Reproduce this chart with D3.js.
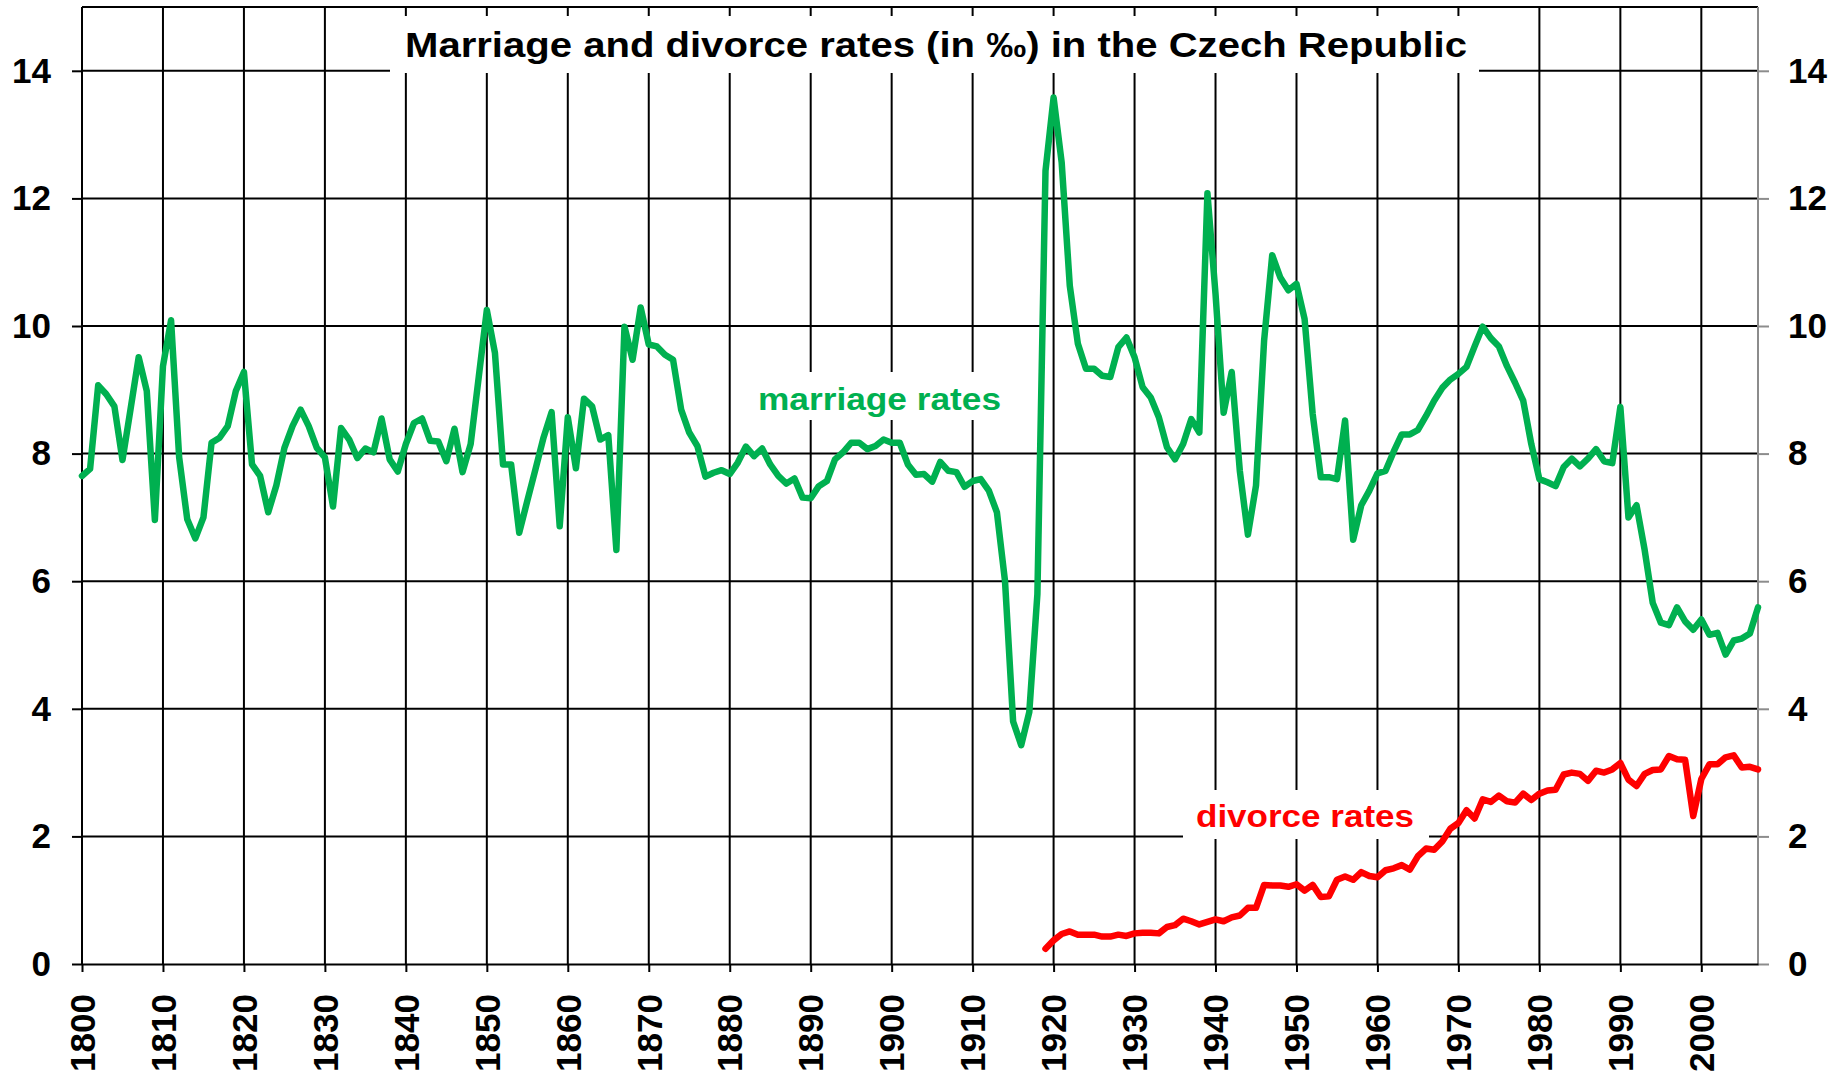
<!DOCTYPE html>
<html>
<head>
<meta charset="utf-8">
<script src="https://cdn.jsdelivr.net/npm/d3@7"></script>
<style>
	body { margin: 0; background: #fff; }
	svg { display: block; font-family: "Liberation Sans", Arial, sans-serif; font-weight: bold; }
</style>
</head>
<body>
<svg id="chart" width="1839" height="1074"></svg>
<script>
// marriages per 1000 inhabitants, one value a year from 1800
const marriageStart = 1800;
const marriageRates = [
	7.65, 7.76, 9.07, 8.93, 8.74, 7.9, 8.7, 9.51, 8.98, 6.96,
	9.37, 10.09, 7.94, 6.97, 6.67, 7.0, 8.17, 8.25, 8.43, 8.98,
	9.28, 7.83, 7.65, 7.08, 7.5, 8.09, 8.43, 8.69, 8.43, 8.09,
	7.94, 7.17, 8.4, 8.22, 7.93, 8.08, 8.02, 8.55, 7.91, 7.72,
	8.15, 8.48, 8.55, 8.2, 8.19, 7.88, 8.39, 7.71, 8.15, 9.2,
	10.25, 9.58, 7.83, 7.83, 6.76, 7.26, 7.75, 8.25, 8.65, 6.86,
	8.57, 7.77, 8.86, 8.74, 8.22, 8.29, 6.49, 9.99, 9.47, 10.29,
	9.71, 9.68, 9.55, 9.47, 8.69, 8.33, 8.12, 7.64, 7.7, 7.74,
	7.68, 7.86, 8.11, 7.96, 8.08, 7.83, 7.65, 7.53, 7.61, 7.31,
	7.3, 7.49, 7.57, 7.91, 8.02, 8.17, 8.17, 8.07, 8.12, 8.22,
	8.17, 8.17, 7.83, 7.67, 7.68, 7.56, 7.87, 7.73, 7.71, 7.48,
	7.57, 7.6, 7.42, 7.08, 6.0, 3.8, 3.43, 3.95, 5.8, 12.43,
	13.58, 12.56, 10.63, 9.72, 9.33, 9.33, 9.22, 9.2, 9.67, 9.82,
	9.51, 9.04, 8.88, 8.57, 8.1, 7.91, 8.15, 8.54, 8.33, 12.08,
	10.5, 8.64, 9.28, 7.73, 6.73, 7.5, 9.77, 11.11, 10.76, 10.56,
	10.66, 10.11, 8.62, 7.63, 7.63, 7.6, 8.52, 6.65, 7.19, 7.42,
	7.69, 7.73, 8.03, 8.3, 8.3, 8.37, 8.59, 8.83, 9.03, 9.16,
	9.25, 9.36, 9.68, 9.99, 9.81, 9.68, 9.37, 9.11, 8.83, 8.15,
	7.6, 7.55, 7.49, 7.79, 7.92, 7.8, 7.92, 8.07, 7.88, 7.85,
	8.73, 7.0, 7.19, 6.49, 5.66, 5.35, 5.31, 5.59, 5.37, 5.24,
	5.4, 5.16, 5.19, 4.85, 5.07, 5.1, 5.18, 5.59
];

// divorces per 1000 inhabitants from 1919
const divorceStart = 1919;
const divorceRates = [
	0.24,
	0.37, 0.47, 0.51, 0.46, 0.46, 0.46, 0.43, 0.43, 0.46, 0.44,
	0.48, 0.49, 0.49, 0.48, 0.58, 0.61, 0.71, 0.67, 0.62, 0.66,
	0.7, 0.67, 0.73, 0.76, 0.88, 0.88, 1.24, 1.23, 1.23, 1.21,
	1.25, 1.15, 1.24, 1.05, 1.06, 1.32, 1.37, 1.32, 1.44, 1.38,
	1.36, 1.47, 1.5, 1.55, 1.48, 1.69, 1.81, 1.79, 1.92, 2.12,
	2.21, 2.41, 2.28, 2.58, 2.54, 2.64, 2.55, 2.53, 2.67, 2.57,
	2.67, 2.72, 2.73, 2.97, 3.0, 2.98, 2.87, 3.03, 3.0, 3.05,
	3.15, 2.89, 2.79, 2.98, 3.04, 3.05, 3.26, 3.21, 3.2, 2.32,
	2.9, 3.13, 3.13, 3.24, 3.27, 3.08, 3.09, 3.05
];

const yearTicks = [1800, 1810, 1820, 1830, 1840, 1850, 1860, 1870, 1880, 1890, 1900,
	1910, 1920, 1930, 1940, 1950, 1960, 1970, 1980, 1990, 2000];
const rateTicks = [0, 2, 4, 6, 8, 10, 12, 14];

const titleText = "Marriage and divorce rates (in \u2030) in the Czech Republic";
const marriageLabel = "marriage rates";
const divorceLabel = "divorce rates";

const fontFamily = '"Liberation Sans", Arial, sans-serif';
const green = "#00b050";
const red = "#ff0000";
const axisGray = "#8c8c8c";

const plotLeft = 82, plotRight = 1758, plotTop = 7, plotBottom = 964;
const x = d3.scaleLinear([1800, 2007], [plotLeft, plotRight]);
const y = d3.scaleLinear([0, 15], [plotBottom, plotTop]);

const svg = d3.select("#chart");

function toPoints(start, values) {
	return values.map((v, i) => ({ year: start + i, value: v }));
}

// grid
const grid = svg.append("g").attr("stroke", "#000").attr("stroke-width", 2);
grid.selectAll(".v")
	.data(yearTicks.slice(1))
	.join("line")
	.attr("class", "v")
	.attr("x1", (d) => x(d)).attr("x2", (d) => x(d))
	.attr("y1", y(15)).attr("y2", y(0));
grid.selectAll(".h")
	.data(rateTicks.slice(1).concat([15]))
	.join("line")
	.attr("class", "h")
	.attr("x1", plotLeft).attr("x2", plotRight)
	.attr("y1", (d) => y(d)).attr("y2", (d) => y(d));

// white boxes behind the texts
function addBox(x0, y0, x1, y1) {
	svg.append("rect")
		.attr("x", x0).attr("y", y0)
		.attr("width", x1 - x0).attr("height", y1 - y0)
		.attr("fill", "#fff");
}
addBox(390, 16, 1479, 73);
addBox(731, 372, 1030, 420);
addBox(1183, 790, 1429, 839);

// axes
const leftAxis = svg.append("g")
	.attr("transform", `translate(${plotLeft},0)`)
	.call(d3.axisLeft(y).tickValues(rateTicks).tickSize(10).tickSizeOuter(0).tickPadding(21));
const rightAxis = svg.append("g")
	.attr("transform", `translate(${plotRight},0)`)
	.call(d3.axisRight(y).tickValues(rateTicks).tickSize(11).tickSizeOuter(0).tickPadding(19));
const bottomAxis = svg.append("g")
	.attr("transform", `translate(0,${plotBottom})`)
	.call(d3.axisBottom(x).tickValues(yearTicks).tickSize(8).tickSizeOuter(0).tickFormat(d3.format("d")));

leftAxis.select(".domain").attr("stroke", "#000").attr("stroke-width", 2).attr("d", `M0,${y(15)}V${y(0)}`);
leftAxis.selectAll("line").attr("stroke", "#000").attr("stroke-width", 2);
rightAxis.select(".domain").attr("stroke", axisGray).attr("stroke-width", 2).attr("d", `M0,${y(15)}V${y(0)}`);
rightAxis.selectAll("line").attr("stroke", axisGray).attr("stroke-width", 2);
bottomAxis.select(".domain").attr("stroke", "#000").attr("stroke-width", 2);
bottomAxis.selectAll("line").attr("stroke", "#000").attr("stroke-width", 2);

svg.selectAll(".tick text")
	.attr("fill", "#000")
	.style("font-family", fontFamily)
	.style("font-size", "35px")
	.style("font-weight", "bold");
bottomAxis.selectAll(".tick text")
	.attr("transform", "rotate(-90)")
	.attr("x", -30)
	.attr("y", 0)
	.attr("dy", "0.35em")
	.attr("text-anchor", "end");

// series
const line = d3.line()
	.x((d) => x(d.year))
	.y((d) => y(d.value));

svg.append("path")
	.datum(toPoints(marriageStart, marriageRates))
	.attr("fill", "none")
	.attr("stroke", green)
	.attr("stroke-width", 6.5)
	.attr("stroke-linejoin", "round")
	.attr("stroke-linecap", "round")
	.attr("d", line);

svg.append("path")
	.datum(toPoints(divorceStart, divorceRates))
	.attr("fill", "none")
	.attr("stroke", red)
	.attr("stroke-width", 6.5)
	.attr("stroke-linejoin", "round")
	.attr("stroke-linecap", "round")
	.attr("d", line);

// texts
svg.append("text")
	.attr("x", 405).attr("y", 57)
	.attr("textLength", 1062)
	.attr("lengthAdjust", "spacingAndGlyphs")
	.style("font-size", "35px")
	.attr("fill", "#000")
	.text(titleText);

svg.append("text")
	.attr("x", 758).attr("y", 410)
	.attr("textLength", 243)
	.attr("lengthAdjust", "spacingAndGlyphs")
	.style("font-size", "32px")
	.attr("fill", green)
	.text(marriageLabel);

svg.append("text")
	.attr("x", 1196).attr("y", 827)
	.attr("textLength", 218)
	.attr("lengthAdjust", "spacingAndGlyphs")
	.style("font-size", "32px")
	.attr("fill", red)
	.text(divorceLabel);
</script>
</body>
</html>
